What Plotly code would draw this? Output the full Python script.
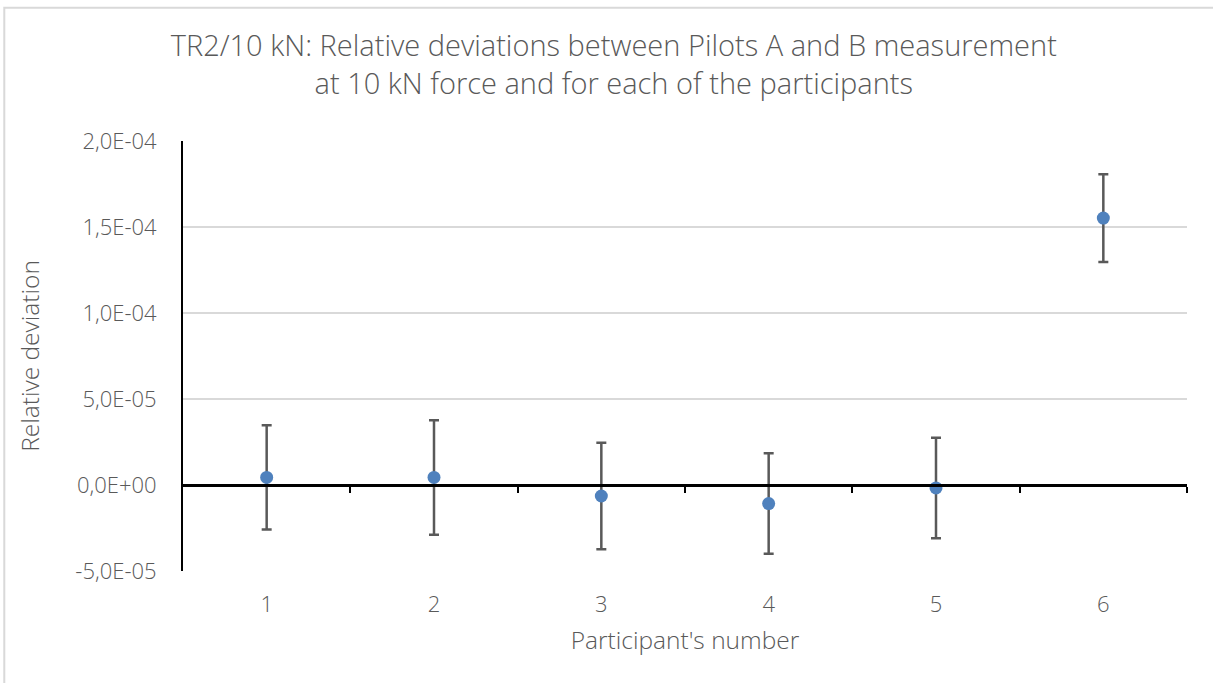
import plotly.graph_objects as go

# Participant numbers and relative deviations (with expanded uncertainties)
participants = [1, 2, 3, 4, 5, 6]
rel_deviation = [4.4e-6, 4.4e-6, -6.4e-6, -10.8e-6, -1.7e-6, 155.2e-6]
uncertainty = [30.3e-6, 33.3e-6, 31.0e-6, 29.2e-6, 29.2e-6, 25.5e-6]

y_tick_values = [-5e-5, 0.0, 5e-5, 1e-4, 1.5e-4, 2e-4]
y_tick_labels = ["-5,0E-05", "0,0E+00", "5,0E-05", "1,0E-04", "1,5E-04", "2,0E-04"]
x_tick_labels = ["1", "2", "3", "4", "5", "6"]

FONT = "Open Sans"
TEXT_GREY = "#595959"
Y_MIN, Y_MAX = -5e-5, 2e-4

fig = go.Figure()

fig.add_trace(go.Scatter(
    x=participants,
    y=rel_deviation,
    mode="markers",
    marker=dict(color="#4F81BD", size=13),
    error_y=dict(type="data", array=uncertainty, visible=True,
                 color="#595959", thickness=2.5, width=5),
    showlegend=False,
))

# invisible trace so the secondary axis (category ticks on the zero line) is active
fig.add_trace(go.Scatter(x=[None], y=[None], xaxis="x2", showlegend=False,
                         hoverinfo="skip"))

fig.update_layout(
    width=1213, height=683,
    margin=dict(l=183, r=26, t=141, b=112),
    paper_bgcolor="white", plot_bgcolor="white",
    title=dict(
        text="TR2/10 kN: Relative deviations between Pilots A and B measurement<br>"
             "at 10 kN force and for each of the participants",
        x=0.506, xanchor="center", y=0.918, yanchor="middle",
        font=dict(family=FONT, size=29, color=TEXT_GREY, weight=300),
    ),
    xaxis=dict(
        range=[0.5, 6.5],
        tickvals=participants, ticktext=x_tick_labels,
        showgrid=False, zeroline=False, showline=False, ticks="",
        ticklabelstandoff=18,
        tickfont=dict(family=FONT, size=22, color=TEXT_GREY, weight=300),
        title=dict(text="Participant's number",
                   font=dict(family=FONT, size=24.5, color=TEXT_GREY, weight=300),
                   standoff=14),
    ),
    xaxis2=dict(
        overlaying="x", anchor="free",
        position=(0 - Y_MIN) / (Y_MAX - Y_MIN),
        range=[0.5, 6.5],
        tickvals=[p + 0.5 for p in participants],
        showticklabels=False, ticks="outside", ticklen=6, tickwidth=2,
        tickcolor="black", showline=True, linecolor="black", linewidth=2.5,
        showgrid=False, zeroline=False,
    ),
    yaxis=dict(
        range=[Y_MIN, Y_MAX],
        tickvals=y_tick_values, ticktext=y_tick_labels,
        showgrid=True, gridcolor="#d9d9d9", gridwidth=1.5,
        zeroline=False,
        showline=True, linecolor="black", linewidth=2,
        ticks="", ticklabelstandoff=20,
        tickfont=dict(family=FONT, size=22, color=TEXT_GREY, weight=300),
        title=dict(text="Relative deviation",
                   font=dict(family=FONT, size=24.5, color=TEXT_GREY, weight=300),
                   standoff=29),
    ),
    shapes=[dict(type="rect", xref="paper", yref="paper",
                 x0=-0.178, x1=1.1, y0=-0.5, y1=1.31,
                 line=dict(color="#d9d9d9", width=2), layer="below")],
)

fig.write_html("out.html")
